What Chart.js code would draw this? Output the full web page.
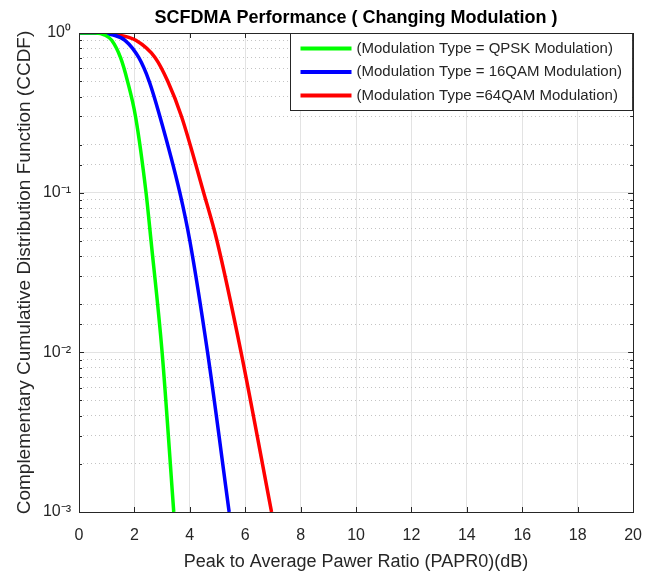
<!DOCTYPE html>
<html>
<head>
<meta charset="utf-8">
<script src="https://cdn.jsdelivr.net/npm/chart.js@4"></script>
<style>
  html, body { margin: 0; padding: 0; background: #fff; }
  #wrap { width: 656px; height: 573px; }
</style>
</head>
<body>
<div id="wrap"><canvas id="ccdf-chart"></canvas></div>
<script>
// SCFDMA PAPR CCDF chart

const seriesLabels = [
    '(Modulation Type = QPSK Modulation)',
    '(Modulation Type = 16QAM Modulation)',
    '(Modulation Type =64QAM Modulation)'
];
const seriesColors = ['#00ff00', '#0000ff', '#ff0000'];

// PAPR0 (dB) and CCDF readings per modulation
const qpskX = [0, 0.6, 0.94, 1.18, 1.50, 1.75, 2.04, 2.42, 2.60, 3.00, 3.42];
const qpskY = [1, 1, 0.97, 0.9, 0.7, 0.5, 0.3, 0.1, 0.05, 0.01, 0.001];
const qam16X = [0, 0.7, 1.24, 1.66, 2.16, 2.53, 2.92, 3.64, 4.00, 4.64, 5.42];
const qam16Y = [1, 1, 0.97, 0.9, 0.7, 0.5, 0.3, 0.1, 0.05, 0.01, 0.001];
const qam64X = [0, 0.8, 1.30, 2.05, 2.75, 3.20, 3.70, 4.50, 4.98, 5.85, 6.95];
const qam64Y = [1, 1, 0.98, 0.9, 0.7, 0.5, 0.3, 0.1, 0.05, 0.01, 0.001];

const xTicks = [0, 2, 4, 6, 8, 10, 12, 14, 16, 18, 20];
const yTickLabels = { '0': '10\u2070', '-1': '10\u207B\u00B9', '-2': '10\u207B\u00B2', '-3': '10\u207B\u00B3' };

const FONT = '"Liberation Sans", Arial, sans-serif';
const TEXT = '#262626';

function toPoints(xs, ys) {
    return xs.map((x, i) => ({ x: x, y: ys[i] }));
}

function isDecade(v) {
    const l = Math.log10(v);
    return Math.abs(l - Math.round(l)) < 1e-6;
}

// frame, inward ticks and legend box, MATLAB style
const axesBox = {
    id: 'axesBox',
    afterDatasetsDraw(chart) {
        const ctx = chart.ctx;
        const a = chart.chartArea;
        const xs = chart.scales.x;
        const ys = chart.scales.y;
        ctx.save();
        ctx.strokeStyle = TEXT;
        ctx.lineWidth = 1;
        ctx.beginPath();
        xs.ticks.forEach(t => {
            const px = Math.round(xs.getPixelForValue(t.value)) + 0.5;
            ctx.moveTo(px, a.bottom); ctx.lineTo(px, a.bottom - 5);
            ctx.moveTo(px, a.top); ctx.lineTo(px, a.top + 5);
        });
        ys.ticks.forEach(t => {
            const py = Math.round(ys.getPixelForValue(t.value)) + 0.5;
            const len = isDecade(t.value) ? 5 : 3;
            ctx.moveTo(a.left, py); ctx.lineTo(a.left + len, py);
            ctx.moveTo(a.right, py); ctx.lineTo(a.right - len, py);
        });
        ctx.stroke();
        ctx.strokeRect(Math.round(a.left) + 0.5, Math.round(a.top) + 0.5,
            Math.round(a.right - a.left), Math.round(a.bottom - a.top));

        // legend
        const bx = 290.5, by = a.top + 0.5, bw = a.right - 291, bh = 77;
        ctx.fillStyle = '#fff';
        ctx.fillRect(bx, by, bw, bh);
        ctx.strokeRect(bx, by, bw, bh);
        ctx.font = '15px ' + FONT;
        ctx.textBaseline = 'middle';
        chart.data.datasets.forEach((ds, i) => {
            const ry = by + 15 + i * 23.5;
            ctx.strokeStyle = ds.borderColor;
            ctx.lineWidth = 4;
            ctx.beginPath();
            ctx.moveTo(bx + 10, ry); ctx.lineTo(bx + 61, ry);
            ctx.stroke();
            ctx.fillStyle = TEXT;
            ctx.fillText(ds.label, bx + 66, ry);
        });
        ctx.restore();
    }
};

function makeDataset(i, xs, ys) {
    return {
        label: seriesLabels[i],
        data: toPoints(xs, ys),
        borderColor: seriesColors[i],
        backgroundColor: seriesColors[i],
        borderWidth: 3.5,
        pointRadius: 0,
        cubicInterpolationMode: 'monotone',
        fill: false
    };
}

const ctx = document.getElementById('ccdf-chart').getContext('2d');
const ccdfChart = new Chart(ctx, {
    type: 'line',
    data: {
        datasets: [
            makeDataset(0, qpskX, qpskY),
            makeDataset(1, qam16X, qam16Y),
            makeDataset(2, qam64X, qam64Y)
        ]
    },
    plugins: [axesBox],
    options: {
        responsive: true,
        maintainAspectRatio: false,
        animation: false,
        layout: { padding: { left: 0, right: 21, top: 0, bottom: 0 } },
        plugins: {
            legend: { display: false },
            tooltip: { enabled: false },
            title: {
                display: true,
                fullSize: false,
                text: 'SCFDMA Performance ( Changing Modulation )',
                color: '#000',
                font: { family: FONT, size: 18, weight: 'bold', lineHeight: 1.2 },
                padding: { top: 7.7, bottom: 3.7 }
            }
        },
        scales: {
            x: {
                type: 'linear',
                min: 0,
                max: 20,
                afterFit: s => { s.height = 61; },
                afterBuildTicks: s => { s.ticks = xTicks.map(v => ({ value: v })); },
                grid: { color: '#e3e3e3', drawTicks: false },
                border: { display: false },
                ticks: {
                    color: TEXT,
                    padding: 14,
                    font: { family: FONT, size: 16 }
                },
                title: {
                    display: true,
                    text: 'Peak to Average Pawer Ratio (PAPR0)(dB)',
                    color: TEXT,
                    font: { family: FONT, size: 18, lineHeight: 1.2 },
                    padding: { top: 0, bottom: 0 }
                }
            },
            y: {
                type: 'logarithmic',
                min: 0.001,
                max: 1,
                afterFit: s => { s.width = 79; },
                grid: {
                    drawTicks: false,
                    color: c => (c.tick && isDecade(c.tick.value)) ? '#e3e3e3' : '#c4c4c4'
                },
                border: {
                    display: false,
                    dash: c => (c.tick && isDecade(c.tick.value)) ? [] : [1, 3]
                },
                ticks: {
                    color: TEXT,
                    padding: 8,
                    autoSkip: false,
                    font: { family: FONT, size: 16 },
                    callback: v => {
                        if (!isDecade(v)) return '';
                        return yTickLabels[String(Math.round(Math.log10(v)))];
                    }
                },
                title: {
                    display: true,
                    text: 'Complementary Cumulative Distribution Function (CCDF)',
                    color: TEXT,
                    font: { family: FONT, size: 19, lineHeight: 1.2 },
                    padding: { top: 13, bottom: 0 }
                }
            }
        }
    }
});
</script>
</body>
</html>
